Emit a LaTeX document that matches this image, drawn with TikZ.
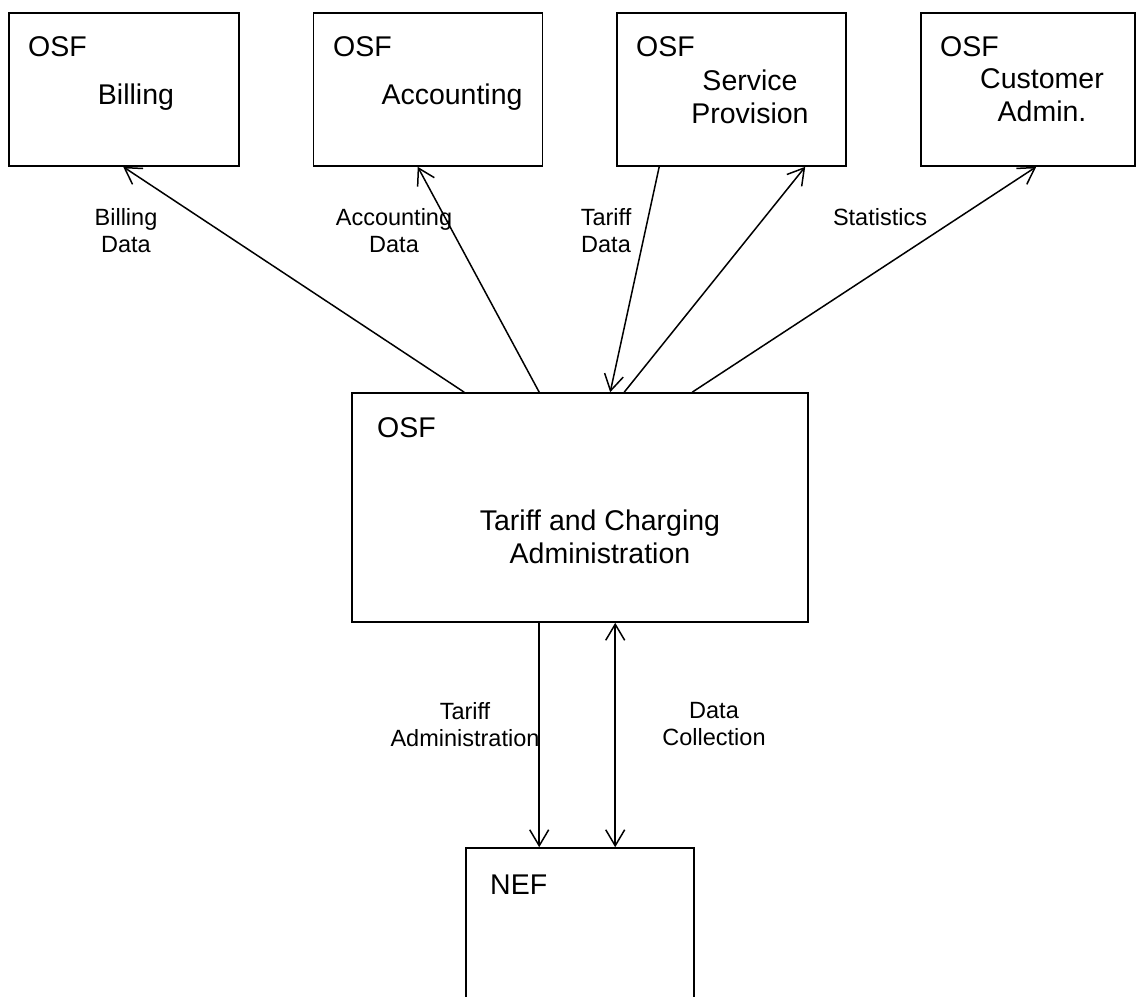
\documentclass[tikz,border=0pt]{standalone}
\usepackage{fontspec}
\setmainfont{Liberation Sans}
\usetikzlibrary{arrows.meta}

\tikzset{
  osfbox/.style={draw, line width=1.6pt, minimum width=#1, minimum height=153pt, inner sep=0pt},
  bigtxt/.style={font=\fontsize{28.5}{33}\selectfont, align=center, inner sep=0pt},
  smalltxt/.style={font=\fontsize{23.5}{27}\selectfont, align=center, inner sep=0pt},
  flow/.style={line width=1.5pt, -{Straight Barb[length=16pt,width=19pt,line width=1.5pt]}},
  flowboth/.style={line width=1.5pt, {Straight Barb[length=16pt,width=19pt,line width=1.5pt]}-{Straight Barb[length=16pt,width=19pt,line width=1.5pt]}}
}

\begin{document}
\begin{tikzpicture}[x=1pt, y=-1pt]
    \useasboundingbox (0,0) rectangle (1137,996);
    \clip (0,0) rectangle (1137,996);

    % OSF boxes on top
    \node[osfbox=230pt] (billing) at (124,89.5) {};
    \node[osfbox=229pt] (accounting) at (428,89.5) {};
    \node[osfbox=229pt] (provision) at (731.5,89.5) {};
    \node[osfbox=214pt] (customer) at (1028,89.5) {};

    \node[bigtxt, anchor=base west] (billingosf) at (28,56) {OSF};
    \node[bigtxt, anchor=base west] (accountingosf) at (333,56) {OSF};
    \node[bigtxt, anchor=base west] (provisionosf) at (636,56) {OSF};
    \node[bigtxt, anchor=base west] (customerosf) at (940,56) {OSF};

    \node[bigtxt, anchor=base] (billingname) at (136,104) {Billing};
    \node[bigtxt, anchor=base] (accountingname) at (452,104) {Accounting};
    \node[bigtxt, anchor=north] (provisionname) at (750,70) {Service\\Provision};
    \node[bigtxt, anchor=north] (customername) at (1042,68) {Customer\\Admin.};

    % Central OSF box
    \node[draw, line width=1.6pt, minimum width=456pt, minimum height=229pt, inner sep=0pt] (tca) at (580,507.5) {};
    \node[bigtxt, anchor=base west] (tcaosf) at (377,437) {OSF};
    \node[bigtxt, anchor=north] (tcaname) at (600,510) {Tariff and Charging\\Administration};

    % NEF box (cut at the bottom)
    \node[draw, line width=1.6pt, minimum width=228pt, minimum height=162pt, inner sep=0pt] (nef) at (580,929) {};
    \node[bigtxt, anchor=base west] (nefname) at (490,894) {NEF};

    % Arrows to the top boxes
    \draw[flow] ([xshift=113pt]tca.north west) -- ([xshift=115pt]billing.south west);
    \draw[flow] ([xshift=188pt]tca.north west) -- ([xshift=105pt]accounting.south west);
    \draw[flow] ([xshift=43pt]provision.south west) -- ([xshift=259pt]tca.north west);
    \draw[flow] ([xshift=273pt]tca.north west) -- ([xshift=189pt]provision.south west);
    \draw[flow] ([xshift=341pt]tca.north west) -- ([xshift=116pt]customer.south west);

    % Arrows down to the NEF
    \draw[flow] ([xshift=188pt]tca.south west) -- ([xshift=74pt]nef.north west);
    \draw[flowboth] ([xshift=264pt]tca.south west) -- ([xshift=150pt]nef.north west);

    % Labels of the flows
    \node[smalltxt, anchor=north] (billingdata) at (126,208) {Billing\\Data};
    \node[smalltxt, anchor=north] (accountingdata) at (394,208) {Accounting\\Data};
    \node[smalltxt, anchor=north] (tariffdata) at (606,208) {Tariff\\Data};
    \node[smalltxt, anchor=north] (statistics) at (880,208) {Statistics};
    \node[smalltxt, anchor=north] (tariffadmin) at (465,702) {Tariff\\Administration};
    \node[smalltxt, anchor=north] (datacollection) at (714,702) {Data\\Collection};
\end{tikzpicture}
\end{document}
